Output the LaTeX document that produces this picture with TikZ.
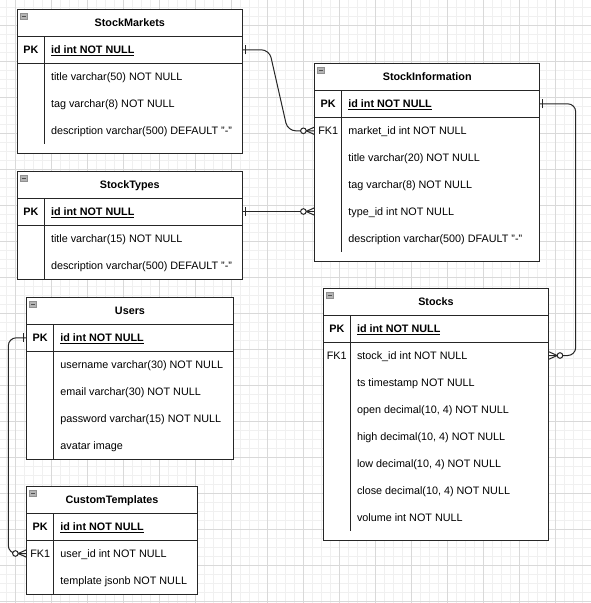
\documentclass[tikz,border=0pt]{standalone}
\usepackage{fontspec}
\setmainfont{Liberation Sans}
\usetikzlibrary{calc}
\definecolor{gmin}{HTML}{F0F0F0}
\definecolor{gmaj}{HTML}{D9D9D9}
\definecolor{lc}{HTML}{262626}
\definecolor{icf}{HTML}{B4B4B4}
\definecolor{icd}{HTML}{909090}
\definecolor{icb}{HTML}{505050}
\tikzset{
  tbox/.style={draw=lc, line width=1pt, fill=white, rectangle, inner sep=0pt, outer sep=0pt, anchor=north west},
  tline/.style={draw=lc, line width=1pt},
  ttitle/.style={font=\fontsize{10.8}{13}\selectfont\bfseries, inner sep=0pt, text height=7.8pt, text depth=0pt},
  fld/.style={font=\fontsize{10.8}{13}\selectfont, inner sep=0pt, anchor=west, text height=7.8pt, text depth=0pt},
  keycell/.style={font=\fontsize{10.8}{13}\selectfont, inner sep=0pt, text height=7.8pt, text depth=0pt},
  conn/.style={draw=lc, line width=1pt, rounded corners=8pt},
  gminor/.style={draw=gmin, line width=0.8pt},
  gmajor/.style={draw=gmaj, line width=0.8pt},
  erzm/.pic={\draw[lc, line width=1pt] (-8.5,0) -- (0,3.8) (-8.5,0) -- (0,-3.8);
             \draw[lc, line width=1pt, fill=white] (-11.3,0) circle (2.8);},
  erone/.pic={\draw[lc, line width=1pt] (-3,-4.5) -- (-3,4.5);},
}
\newcommand\ertable[7]{%
  \node[tbox, minimum width=#4pt, minimum height=#5pt] (#1) at (#2,#3) {};
  \draw[tline] (#2,#3+27) -- ++(#4,0);
  \draw[tline] (#2,#3+54) -- ++(#4,0);
  \draw[tline] (#2+27,#3+27) -- (#2+27,#6);
  \filldraw[fill=icf, draw=icd, line width=0.6pt] (#2+3,#3+4) rectangle (#2+10,#3+10);
  \draw[icb, line width=1pt] (#2+4.5,#3+7) -- (#2+8.5,#3+7);
  \node[ttitle] (#1-t) at (#2+#4/2,#3+13.5) {#7};
}
\newcommand\erkey[5]{\node[keycell] (#1) at (#2+13.5,#3+40.5+27*#4) {#5};}
\newcommand\erfld[5]{\node[fld] (#1) at (#2+33.5,#3+40.5+27*#4) {#5};}
\begin{document}
\begin{tikzpicture}[x=1pt,y=-1pt]
\useasboundingbox (0,0) rectangle (591,603);
\fill[white] (0,0) rectangle (591,603);
% grid
\foreach \x in {6.5,15.5,...,591} \draw[gminor] (\x,0) -- (\x,603);
\foreach \y in {7.3,16.3,...,603} \draw[gminor] (0,\y) -- (591,\y);
\foreach \x in {15.5,51.5,...,591} \draw[gmajor] (\x,0) -- (\x,603);
\foreach \y in {25.3,61.3,...,603} \draw[gmajor] (0,\y) -- (591,\y);

% StockMarkets
\ertable{sm}{17.3}{9.3}{225}{144}{144.3}{StockMarkets}
\erkey{sm-k0}{17.3}{9.3}{0}{\bfseries PK}
\erfld{sm-id}{17.3}{9.3}{0}{\bfseries\underline{id int NOT NULL}}
\erfld{sm-title}{17.3}{9.3}{1}{title varchar(50) NOT NULL}
\erfld{sm-tag}{17.3}{9.3}{2}{tag varchar(8) NOT NULL}
\erfld{sm-desc}{17.3}{9.3}{3}{description varchar(500) DEFAULT "-"}

% StockInformation
\ertable{si}{314.7}{63.3}{225}{198}{252.3}{StockInformation}
\erkey{si-k0}{314.7}{63.3}{0}{\bfseries PK}
\erkey{si-k1}{314.7}{63.3}{1}{FK1}
\erfld{si-id}{314.7}{63.3}{0}{\bfseries\underline{id int NOT NULL}}
\erfld{si-mkt}{314.7}{63.3}{1}{market\_id int NOT NULL}
\erfld{si-title}{314.7}{63.3}{2}{title varchar(20) NOT NULL}
\erfld{si-tag}{314.7}{63.3}{3}{tag varchar(8) NOT NULL}
\erfld{si-type}{314.7}{63.3}{4}{type\_id int NOT NULL}
\erfld{si-desc}{314.7}{63.3}{5}{description varchar(500) DFAULT "-"}

% StockTypes
\ertable{st}{17.3}{171}{225}{108.3}{279.3}{StockTypes}
\erkey{st-k0}{17.3}{171}{0}{\bfseries PK}
\erfld{st-id}{17.3}{171}{0}{\bfseries\underline{id int NOT NULL}}
\erfld{st-title}{17.3}{171}{1}{title varchar(15) NOT NULL}
\erfld{st-desc}{17.3}{171}{2}{description varchar(500) DEFAULT "-"}

% Users
\ertable{us}{26.7}{297.3}{206.6}{161.7}{459}{Users}
\erkey{us-k0}{26.7}{297.3}{0}{\bfseries PK}
\erfld{us-id}{26.7}{297.3}{0}{\bfseries\underline{id int NOT NULL}}
\erfld{us-name}{26.7}{297.3}{1}{username varchar(30) NOT NULL}
\erfld{us-mail}{26.7}{297.3}{2}{email varchar(30) NOT NULL}
\erfld{us-pw}{26.7}{297.3}{3}{password varchar(15) NOT NULL}
\erfld{us-av}{26.7}{297.3}{4}{avatar image}

% CustomTemplates
\ertable{ct}{26.7}{486}{170.6}{108}{594}{CustomTemplates}
\erkey{ct-k0}{26.7}{486}{0}{\bfseries PK}
\erkey{ct-k1}{26.7}{486}{1}{FK1}
\erfld{ct-id}{26.7}{486}{0}{\bfseries\underline{id int NOT NULL}}
\erfld{ct-uid}{26.7}{486}{1}{user\_id int NOT NULL}
\erfld{ct-tpl}{26.7}{486}{2}{template jsonb NOT NULL}

% Stocks
\ertable{sk}{323.3}{288}{225.4}{252}{531}{Stocks}
\erkey{sk-k0}{323.3}{288}{0}{\bfseries PK}
\erkey{sk-k1}{323.3}{288}{1}{FK1}
\erfld{sk-id}{323.3}{288}{0}{\bfseries\underline{id int NOT NULL}}
\erfld{sk-sid}{323.3}{288}{1}{stock\_id int NOT NULL}
\erfld{sk-ts}{323.3}{288}{2}{ts timestamp NOT NULL}
\erfld{sk-open}{323.3}{288}{3}{open decimal(10, 4) NOT NULL}
\erfld{sk-high}{323.3}{288}{4}{high decimal(10, 4) NOT NULL}
\erfld{sk-low}{323.3}{288}{5}{low decimal(10, 4) NOT NULL}
\erfld{sk-close}{323.3}{288}{6}{close decimal(10, 4) NOT NULL}
\erfld{sk-vol}{323.3}{288}{7}{volume int NOT NULL}

% connectors
\draw[conn] (sm-id -| sm.east) -- ++(27,0) -- ($(si-mkt -| si.west)+(-27,0)$) -- (si-mkt -| si.west);
\draw[conn] (st-id -| st.east) -- (st-id -| si.west);
\draw[conn] (si-id -| si.east) -- ++(36,0) |- (sk-sid -| sk.east);
\draw[conn] (us-id -| us.west) -- ++(-18.4,0) |- (ct-uid -| ct.west);

% markers
\pic[rotate=180] at (sm-id -| sm.east) {erone};
\pic at (si-mkt -| si.west) {erzm};
\pic[rotate=180] at (st-id -| st.east) {erone};
\pic at (st-id -| si.west) {erzm};
\pic[rotate=180] at (si-id -| si.east) {erone};
\pic[rotate=180] at (sk-sid -| sk.east) {erzm};
\pic at (us-id -| us.west) {erone};
\pic at (ct-uid -| ct.west) {erzm};
\end{tikzpicture}
\end{document}
